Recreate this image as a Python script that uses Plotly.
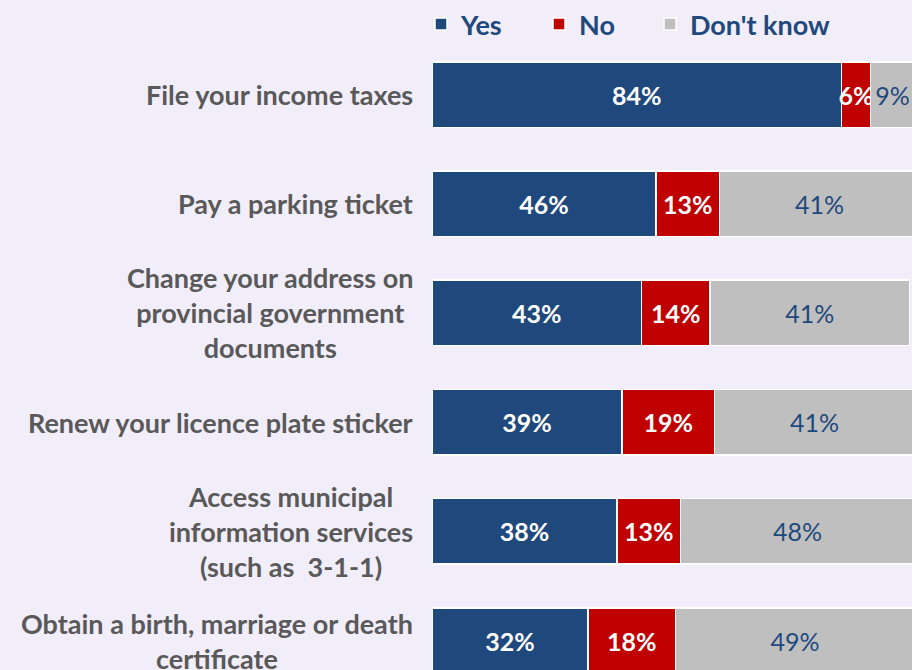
import plotly.graph_objects as go

categories = [
    "File your income taxes",
    "Pay a parking ticket",
    "Change your address on<br>provincial government<br>documents",
    "Renew your licence plate sticker",
    "Access municipal<br>information services<br>(such as  3-1-1)",
    "Obtain a birth, marriage or death<br>certificate",
]
yes = [84, 46, 43, 39, 38, 32]
no = [6, 13, 14, 19, 13, 18]
dont_know = [9, 41, 41, 41, 48, 49]

BLEU = "#1F497D"
ROUGE = "#C00000"
GRIS = "#BFBFBF"
FOND = "#F1EDF9"
POLICE = "Lato"

fig = go.Figure()
series = [
    ("Yes", yes, BLEU, "white", "bold", "legend", 421),
    ("No", no, ROUGE, "white", "bold", "legend2", 539),
    ("Don't know", dont_know, GRIS, BLEU, "normal", "legend3", 650),
]
legendes = {}
for nom, valeurs, couleur, couleur_txt, graisse, leg, pos in series:
    fig.add_trace(go.Bar(
        name=nom,
        y=categories,
        x=valeurs,
        orientation="h",
        width=0.6,
        legend=leg,
        marker=dict(color=couleur, line=dict(color="white", width=1.5)),
        text=[f"{v}%" for v in valeurs],
        textposition="inside",
        insidetextanchor="middle",
        textangle=0,
        textfont=dict(family=POLICE, size=25, color=couleur_txt, weight=graisse),
        hoverinfo="skip",
    ))
    # une légende par série pour placer chaque entrée comme dans l'original
    legendes[leg] = dict(
        orientation="h",
        xref="container", yref="container",
        x=pos / 912, xanchor="left", y=1.0, yanchor="top",
        bgcolor="rgba(0,0,0,0)",
        font=dict(family=POLICE, size=27, color=BLEU, weight="bold"),
    )

# libellés des catégories, centrés ligne par ligne
for cat in categories:
    fig.add_annotation(
        x=-0.035, xref="paper", xanchor="right",
        y=cat, yref="y", yanchor="middle",
        text=cat, showarrow=False, align="center",
        font=dict(family=POLICE, size=27, color="#595959", weight="bold"),
    )

fig.update_layout(
    width=912,
    height=670,
    barmode="stack",
    paper_bgcolor=FOND,
    plot_bgcolor=FOND,
    margin=dict(l=432, r=0, t=40, b=0, autoexpand=False),
    uniformtext=dict(minsize=25, mode="show"),
    xaxis=dict(visible=False, range=[0, 98.5], fixedrange=True),
    yaxis=dict(
        showticklabels=False, showgrid=False, zeroline=False,
        range=[5.27, -0.5], categoryorder="array", categoryarray=categories,
    ),
    showlegend=True,
    **legendes,
)

fig.write_html(
    "out.html",
    config={"displayModeBar": False},
    post_script="document.body.style.margin='0px';",
)
